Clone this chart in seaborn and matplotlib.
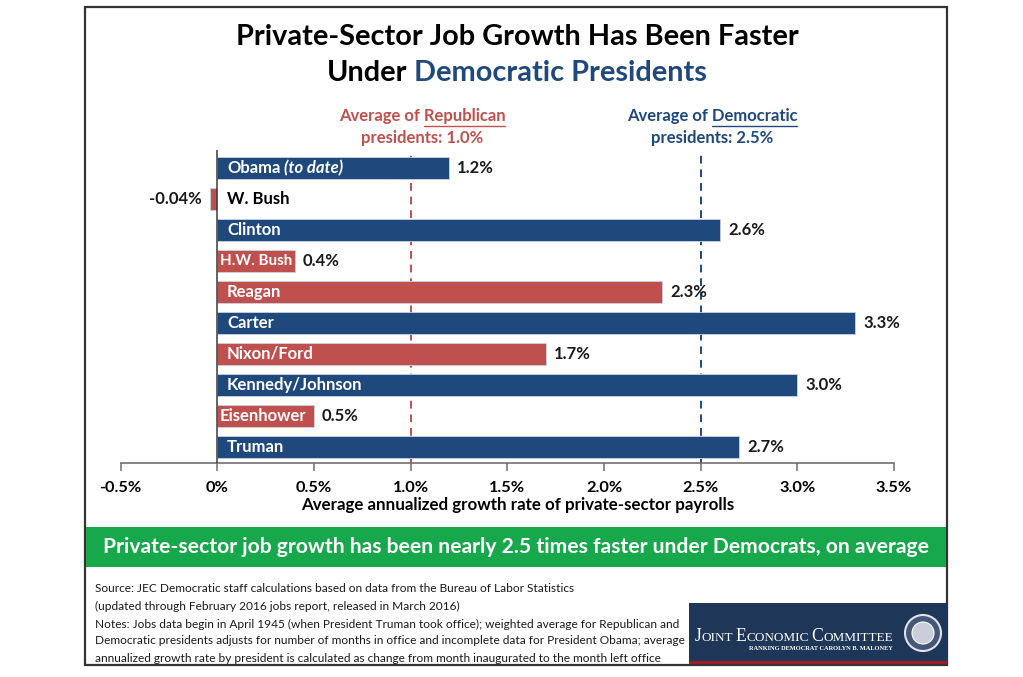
import matplotlib
matplotlib.use("Agg")
import matplotlib.pyplot as plt
import seaborn as sns
import pandas as pd
from matplotlib.patches import Rectangle, Ellipse
from matplotlib.lines import Line2D

# ---------------- data ----------------
presidents = ["Obama", "W. Bush", "Clinton", "H.W. Bush", "Reagan", "Carter",
              "Nixon/Ford", "Kennedy/Johnson", "Eisenhower", "Truman"]
growth = [1.2, -0.04, 2.6, 0.4, 2.3, 3.3, 1.7, 3.0, 0.5, 2.7]
value_labels = ["1.2%", "-0.04%", "2.6%", "0.4%", "2.3%", "3.3%", "1.7%",
                "3.0%", "0.5%", "2.7%"]
party = ["Democratic", "Republican", "Democratic", "Republican", "Republican",
         "Democratic", "Republican", "Democratic", "Republican", "Democratic"]
republican_avg = 1.0
democratic_avg = 2.5
x_ticks = [-0.5, 0, 0.5, 1.0, 1.5, 2.0, 2.5, 3.0, 3.5]
x_tick_labels = ["-0.5%", "0%", "0.5%", "1.0%", "1.5%", "2.0%", "2.5%", "3.0%", "3.5%"]

title_line1 = "Private-Sector Job Growth Has Been Faster"
title_line2_a = "Under"
title_line2_b = "Democratic Presidents"
x_label = "Average annualized growth rate of private-sector payrolls"
banner = "Private-sector job growth has been nearly 2.5 times faster under Democrats, on average"
notes = [
    "Source: JEC Democratic staff calculations based on data from the Bureau of Labor Statistics",
    "(updated through February 2016 jobs report, released in March 2016)",
    "Notes: Jobs data begin in April 1945 (when President Truman took office); weighted average for Republican and",
    "Democratic presidents adjusts for number of months in office and incomplete data for President Obama; average",
    "annualized growth rate by president is calculated as change from month inaugurated to the month left office",
]
logo_words = ["JOINT", "ECONOMIC", "COMMITTEE"]
logo_sub = "RANKING DEMOCRAT CAROLYN B. MALONEY"

BLUE = "#1f497d"
RED = "#c0504d"
GREEN = "#17a84b"
NAVY = "#1e3657"

# ---------------- setup ----------------
sns.set_theme(style="white")
plt.rcParams["font.family"] = ["Lato", "DejaVu Sans"]

W, H = 1023, 677
fig = plt.figure(figsize=(W / 100, H / 100), dpi=100)
fig.patch.set_facecolor("white")
renderer = fig.canvas.get_renderer()


def fx(p):
    return p / W


def fy(p):
    return 1 - p / H


def text_width(s, **kw):
    t = fig.text(0, 0, s, **kw)
    w = t.get_window_extent(renderer).width
    t.remove()
    return w


# ---------------- frame ----------------
fig.add_artist(Rectangle((fx(85), fy(665)), fx(947) - fx(85), fy(7) - fy(665),
                         transform=fig.transFigure, fill=False,
                         edgecolor="#333333", linewidth=1.6, zorder=0))

# ---------------- title ----------------
title_kw = dict(fontsize=20.8, fontweight="bold")
fig.text(fx(517), fy(37), title_line1, ha="center", va="center", color="black", **title_kw)
w_full = text_width(title_line2_a + " " + title_line2_b, **title_kw)
cx = 517
fig.text(fx(cx - w_full / 2), fy(73), title_line2_a, ha="left", va="center",
         color="black", **title_kw)
fig.text(fx(cx + w_full / 2), fy(73), title_line2_b, ha="right", va="center",
         color=BLUE, **title_kw)

# ---------------- axes ----------------
ax_left, ax_right, ax_top, ax_bottom = 120.7, 894, 150, 462.7
ax = fig.add_axes([fx(ax_left), fy(ax_bottom), fx(ax_right) - fx(ax_left),
                   fy(ax_top) - fy(ax_bottom)])
df = pd.DataFrame({"president": presidents, "growth": growth, "party": party})
sns.barplot(data=df, x="growth", y="president", hue="party",
            palette={"Democratic": BLUE, "Republican": RED},
            orient="h", dodge=False, width=0.71, legend=False, saturation=1,
            edgecolor="#c8d3e3", linewidth=0.6, ax=ax, zorder=2)
ax.set_xlim(-0.5, 3.5)
ax.set_ylim(9.51, -0.58)
ax.set_facecolor("none")
for s in ["left", "top", "right"]:
    ax.spines[s].set_visible(False)
ax.spines["bottom"].set_color("#6f6f6f")
ax.spines["bottom"].set_linewidth(1.2)
ax.set_yticks([])
ax.set_ylabel("")
ax.set_xlabel("")
ax.set_xticks(x_ticks)
ax.set_xticklabels(x_tick_labels, fontsize=11.8, fontweight="bold", color="black")
ax.tick_params(axis="x", direction="out", length=6, width=1.1, color="#6f6f6f",
               pad=7, bottom=True)
ax.grid(False)

ax.axvline(0, color="#3a3a3a", linewidth=1.1, zorder=3)
ax.axvline(republican_avg, color=RED, linewidth=1.4, linestyle=(0, (4, 3)), zorder=1)
ax.axvline(democratic_avg, color=BLUE, linewidth=1.4, linestyle=(0, (4, 3)), zorder=1)

px_per_unit = (ax_right - ax_left) / 4.0
base_size = 12
for i, (name, g, lab) in enumerate(zip(presidents, growth, value_labels)):
    label_kw = dict(fontsize=base_size, fontweight="bold")
    if g < 0:
        ax.text(0.05, i, name, ha="left", va="center", color="black", zorder=4, **label_kw)
        ax.text(g - 8 / px_per_unit, i, lab, ha="right", va="center", color="#1a1a1a",
                zorder=4, **label_kw)
        continue
    bar_px = g * px_per_unit
    name_w = text_width(name, **label_kw)
    if name_w + 20 < bar_px:
        start = 0.05
        name_kw = label_kw
    else:
        start = 0.012
        name_kw = dict(fontsize=base_size * min(1.0, (bar_px - 5) / name_w),
                       fontweight="bold")
    ax.text(start, i, name, ha="left", va="center", color="white", zorder=4, **name_kw)
    if name == "Obama":
        sp = text_width("a a", **label_kw) - text_width("aa", **label_kw)
        ax.annotate("(to date)", xy=(start, i), xycoords="data",
                    xytext=(name_w + sp, 0), textcoords="offset pixels",
                    ha="left", va="center", color="white", fontstyle="italic",
                    zorder=4, **label_kw)
    ax.text(g + 8 / px_per_unit, i, lab, ha="left", va="center", color="#1a1a1a",
            zorder=4, **label_kw)

# ---------------- average annotations ----------------
ann_kw = dict(fontsize=12, fontweight="bold")


def average_note(cx, word, value, color):
    line1 = "Average of " + word
    w1 = text_width(line1, **ann_kw)
    ww = text_width(word, **ann_kw)
    fig.text(fx(cx), fy(116), line1, ha="center", va="center", color=color, **ann_kw)
    x_end = cx + w1 / 2
    fig.add_artist(Line2D([fx(x_end - ww), fx(x_end)], [fy(126), fy(126)],
                          transform=fig.transFigure, color=color, linewidth=1))
    fig.text(fx(cx), fy(138), "presidents: %.1f%%" % value, ha="center", va="center",
             color=color, **ann_kw)


average_note(422, "Republican", republican_avg, RED)
average_note(712, "Democratic", democratic_avg, BLUE)

# ---------------- x label ----------------
fig.text(fx(517.5), fy(505), x_label, ha="center", va="center", fontsize=12.2,
         fontweight="bold", color="black")

# ---------------- banner ----------------
fig.add_artist(Rectangle((fx(86), fy(567)), fx(946) - fx(86), fy(527) - fy(567),
                         transform=fig.transFigure, facecolor=GREEN, edgecolor="none"))
fig.text(fx(516), fy(547), banner, ha="center", va="center", fontsize=15.2,
         fontweight="bold", color="white")

# ---------------- notes ----------------
for txt, yy in zip(notes, [589, 606, 624, 641, 658]):
    fig.text(fx(95), fy(yy), txt, ha="left", va="center", fontsize=8.6, color="#1a1a1a")

# ---------------- logo ----------------
fig.add_artist(Rectangle((fx(689), fy(664)), fx(947) - fx(689), fy(603) - fy(664),
                         transform=fig.transFigure, facecolor=NAVY, edgecolor="none"))
fig.add_artist(Rectangle((fx(689), fy(664)), fx(947) - fx(689), fy(661) - fy(664),
                         transform=fig.transFigure, facecolor="#9e1b22", edgecolor="none"))

big_kw = dict(fontsize=12, color="white", family="Liberation Serif")
small_kw = dict(fontsize=9, color="white", family="Liberation Serif")
space_w = text_width("A A", **big_kw) - text_width("AA", **big_kw)
pieces = []
for k, word in enumerate(logo_words):
    pieces.append((word[0], big_kw))
    pieces.append((word[1:], small_kw))
total = sum(text_width(p, **kw) for p, kw in pieces) + space_w * (len(logo_words) - 1)
scale = (893 - 695) / total
cursor = 695.0
for j, (p, kw) in enumerate(pieces):
    kw2 = dict(kw)
    kw2["fontsize"] = kw["fontsize"] * scale
    fig.text(fx(cursor), fy(641), p, ha="left", va="baseline", **kw2)
    cursor += text_width(p, **kw2)
    if j % 2 == 1:
        cursor += space_w * scale
fig.text(fx(893), fy(648), logo_sub, ha="right", va="center",
         fontsize=4.6, color="white", family="Liberation Serif", fontweight="bold")
fig.add_artist(Ellipse((fx(923), fy(633)), 36 / W, 36 / H, transform=fig.transFigure,
                       facecolor="#46587a", edgecolor="#dfe3ea", linewidth=1.5))
fig.add_artist(Ellipse((fx(923), fy(633)), 22 / W, 22 / H, transform=fig.transFigure,
                       facecolor="#c9ced8", edgecolor="white", linewidth=0.8))

fig.savefig("out.png", dpi=100, facecolor="white")
